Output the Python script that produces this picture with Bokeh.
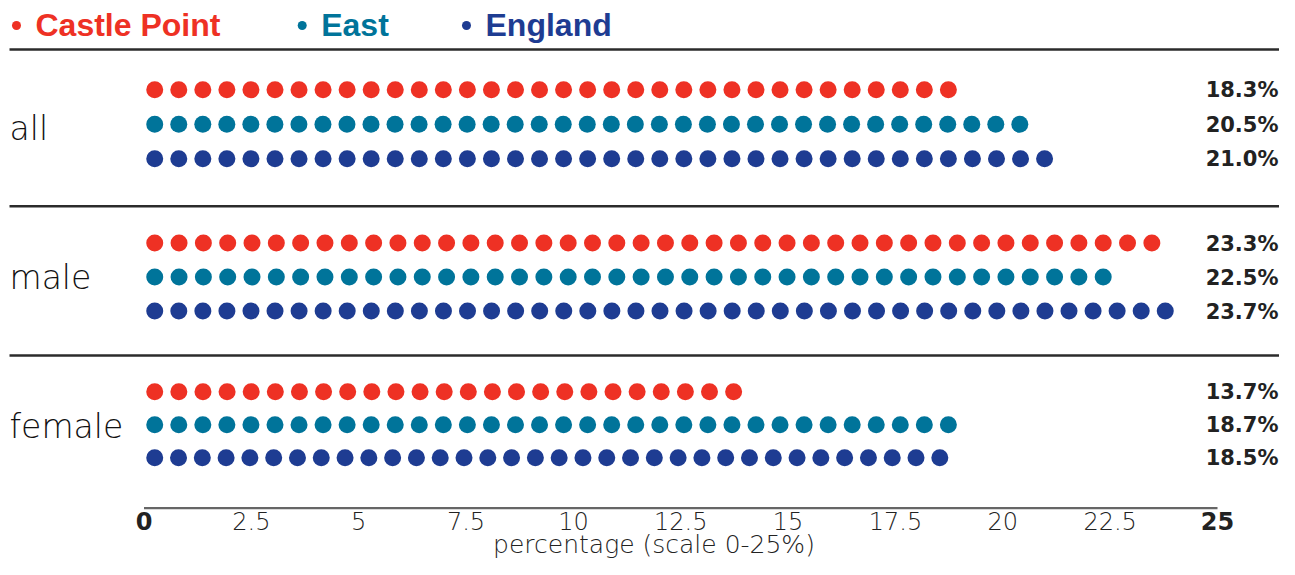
import numpy as np
from bokeh.plotting import figure
from bokeh.models import Range1d
from bokeh.core.properties import value
from bokeh.embed import file_html
from bokeh.resources import INLINE

# ---------------- data ----------------
groups = ["all", "male", "female"]
series = ["Castle Point", "East", "England"]
castle_point = [18.3, 23.3, 13.7]
east = [20.5, 22.5, 18.7]
england = [21.0, 23.7, 18.5]
# number of dots drawn in each row
castle_point_dots = [34, 42, 25]
east_dots = [37, 40, 34]
england_dots = [38, 43, 34]
x_ticks = [0, 2.5, 5, 7.5, 10, 12.5, 15, 17.5, 20, 22.5, 25]
x_tick_labels = ["0", "2.5", "5", "7.5", "10", "12.5", "15", "17.5", "20", "22.5", "25"]
x_title = "percentage (scale 0-25%)"

# ---------------- styles / layout ----------------
colors = ["#EE3124", "#00749A", "#1E3C92"]
W, H = 1279, 559
X0_PX, X25_PX = 143.5, 1217.0
PPU = (X25_PX - X0_PX) / 25.0


def px2x(px):
    return (px - X0_PX) / PPU


x_start = px2x(0)
x_end = px2x(W)

LIGHT = value("DejaVu Sans Light, DejaVu Sans")
BOLD = value("DejaVu Sans")
LEG = value("Liberation Sans")

p = figure(width=W, height=H, x_range=Range1d(x_start, x_end), y_range=Range1d(H, 0),
           output_backend="svg", toolbar_location=None, x_axis_type=None, y_axis_type=None,
           min_border=0, outline_line_color=None,
           background_fill_color="white", border_fill_color="white")
p.grid.visible = False

# ---------------- legend ----------------
leg_dot_px = [16, 301.7, 466]
leg_txt_px = [35, 320.7, 485]
p.scatter(x=[px2x(v) for v in leg_dot_px], y=[25] * 3, size=9, marker="circle",
          fill_color=colors, line_color=None)
for i, name in enumerate(series):
    p.text(x=[px2x(leg_txt_px[i])], y=[24.5], text=[name], text_font=LEG,
           text_font_size="32px", text_font_style="bold", text_color=colors[i],
           text_align="left", text_baseline="middle")

# ---------------- separators ----------------
sep_y = [49, 205.7, 355]
p.segment(x0=[px2x(9)] * 3, x1=[x_end] * 3, y0=sep_y, y1=sep_y,
          line_color="#2b2b2b", line_width=2.5)

# ---------------- dots ----------------
group_top = [89.3, 242.5, 391.3]
row_step = [34.5, 34, 33]
DOT_START = 0.25
# dot pitch in screen px per series (rows) and group (columns), as drawn in the original
dot_pitch_px = [[24.05, 24.32, 24.12],
                [24.03, 24.32, 24.05],
                [24.05, 24.06, 23.79]]
values = [castle_point, east, england]
dots = [castle_point_dots, east_dots, england_dots]

for s in range(3):
    xs, ys = [], []
    for g in range(3):
        n = dots[s][g]
        step = dot_pitch_px[s][g] / PPU
        xs.extend(list(DOT_START + step * np.arange(n)))
        ys.extend([group_top[g] + s * row_step[g]] * n)
    p.scatter(x=xs, y=ys, size=17, marker="circle", fill_color=colors[s], line_color=None)

# percentage labels
lx, ly, lt = [], [], []
for g in range(3):
    for s in range(3):
        lx.append(px2x(1278))
        ly.append(group_top[g] + s * row_step[g] + 0.5)
        lt.append(f"{values[s][g]:.1f}%")
p.text(x=lx, y=ly, text=lt, text_font=BOLD, text_font_size="21px", text_font_style="bold",
       text_color="#222222", text_align="right", text_baseline="middle")

# category labels
cat_y = [127.8, 276.8, 425.8]
p.text(x=[px2x(9)] * 3, y=cat_y, text=groups, text_font=LIGHT, text_font_size="33px",
       text_color="#111111", text_align="left", text_baseline="middle")

# ---------------- x axis ----------------
p.segment(x0=[x_ticks[0]], x1=[x_ticks[-1]], y0=[507.7], y1=[507.7],
          line_color="#666666", line_width=2.2)
inner = list(range(1, len(x_ticks) - 1))
p.text(x=[x_ticks[i] for i in inner], y=[520.8] * len(inner),
       text=[x_tick_labels[i] for i in inner], text_font=LIGHT, text_font_size="24px",
       text_color="#222222", text_align="center", text_baseline="middle")
p.text(x=[x_ticks[0], x_ticks[-1]], y=[520.8] * 2, text=[x_tick_labels[0], x_tick_labels[-1]],
       text_font=BOLD, text_font_size="24px", text_font_style="bold",
       text_color="#222222", text_align="center", text_baseline="middle")
p.text(x=[px2x(653.5)], y=[544], text=[x_title], text_font=LIGHT, text_font_size="25px",
       text_color="#222222", text_align="center", text_baseline="middle")

open("out.html", "w").write(file_html(p, INLINE))
